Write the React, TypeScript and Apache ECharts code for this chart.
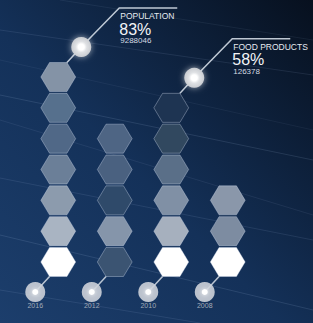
import React, { useEffect, useRef } from "react";
import * as echarts from "echarts";

// Categories (left to right)
const years = ["2016", "2012", "2010", "2008"];

// Hexagon shades per column, listed bottom -> top
const shades2016 = ["#ffffff", "#a9b4c2", "#8c9bad", "#6b7f98", "#506887", "#56708d", "#8493a6"];
const shades2012 = ["#3b5472", "#8595aa", "#2f4a6a", "#4a6180", "#4e6584"];
const shades2010 = ["#ffffff", "#a6b0be", "#8090a5", "#5a6f88", "#31485f", "#1e3452"];
const shades2008 = ["#ffffff", "#7d8ca1", "#8a97aa"];
const columnShades = [shades2016, shades2012, shades2010, shades2008];

// Callouts
const calloutYears = ["2016", "2010"];
const calloutNames = ["POPULATION", "FOOD PRODUCTS"];
const calloutPercents = [83, 58];
const calloutValues = [9288046, 126378];

const FONT = "'Liberation Sans', Arial, sans-serif";

function hexGeom(api: any) {
  const size = api.size([1, 1]);
  const h = size[1] - 1.8;
  const w = h * 1.2;
  return { h, r: w / 2 };
}

export default function App() {
  const ref = useRef<HTMLDivElement>(null);
  useEffect(() => {
    const chart = echarts.init(ref.current!, null, { renderer: "svg" });

    const hexData: any[] = [];
    columnShades.forEach((col, i) =>
      col.forEach((c, j) => hexData.push({ value: [i, j + 1], itemStyle: { color: c } }))
    );
    const baseData = years.map((_, i) => [i, 1]);
    const calloutData = calloutYears.map((y, k) => {
      const i = years.indexOf(y);
      return [i, columnShades[i].length, k];
    });

    const glow = {
      type: "radial",
      x: 0.5,
      y: 0.5,
      r: 0.5,
      colorStops: [
        { offset: 0, color: "#ffffff" },
        { offset: 0.3, color: "#ffffff" },
        { offset: 0.55, color: "#dfe1e4" },
        { offset: 1, color: "#c9ccd1" },
      ],
    };

    const streaks: any[] = [
      [0, 30, 313, 75, 0.1],
      [0, 95, 313, 160, 0.12],
      [0, 120, 313, 215, 0.08],
      [0, 178, 313, 240, 0.1],
      [0, 235, 313, 310, 0.12],
      [0, 290, 200, 323, 0.1],
      [60, 0, 313, 40, 0.07],
      [0, 60, 313, 130, 0.06],
    ].map(([x1, y1, x2, y2, o]) => ({
      type: "line",
      silent: true,
      z: -10,
      shape: { x1, y1, x2, y2 },
      style: { stroke: `rgba(200,220,255,${o})`, lineWidth: 1 },
    }));

    chart.setOption({
      animation: false,
      backgroundColor: {
        type: "linear",
        x: 0,
        y: 1,
        x2: 1,
        y2: 0,
        colorStops: [
          { offset: 0, color: "#1c3e6c" },
          { offset: 0.45, color: "#143159" },
          { offset: 1, color: "#07101e" },
        ],
      },
      graphic: streaks,
      grid: { left: 30, width: 226, top: 61.6, height: 215.8 },
      xAxis: { type: "category", data: years, show: false },
      yAxis: { type: "value", min: 0.5, max: 7.5, show: false },
      series: [
        {
          type: "custom",
          data: hexData,
          z: 2,
          renderItem: (params: any, api: any) => {
            const [cx, cy] = api.coord([api.value(0), api.value(1)]);
            const { h, r } = hexGeom(api);
            return {
              type: "polygon",
              shape: {
                points: [
                  [cx - r, cy],
                  [cx - r / 2, cy - h / 2],
                  [cx + r / 2, cy - h / 2],
                  [cx + r, cy],
                  [cx + r / 2, cy + h / 2],
                  [cx - r / 2, cy + h / 2],
                ],
              },
              style: { fill: api.visual("color"), stroke: "rgba(220,230,245,0.35)", lineWidth: 1 },
            };
          },
        },
        {
          type: "custom",
          data: baseData,
          z: 3,
          renderItem: (params: any, api: any) => {
            const [cx, cy] = api.coord([api.value(0), api.value(1)]);
            const { h, r } = hexGeom(api);
            const ox = cx - 23;
            const oy = cy + 30;
            return {
              type: "group",
              children: [
                {
                  type: "line",
                  shape: { x1: ox, y1: oy, x2: cx - r / 2, y2: cy + h / 2 },
                  style: { stroke: "rgba(215,222,230,0.85)", lineWidth: 1.5 },
                },
                {
                  type: "circle",
                  shape: { cx: ox, cy: oy, r: 10 },
                  style: { fill: "rgba(205,210,217,0.9)" },
                },
                {
                  type: "circle",
                  shape: { cx: ox, cy: oy, r: 3 },
                  style: { fill: "#ffffff", shadowBlur: 4, shadowColor: "#ffffff" },
                },
                {
                  type: "text",
                  style: {
                    x: ox,
                    y: oy + 14,
                    text: years[api.value(0)],
                    fill: "#a3acb8",
                    font: `7px ${FONT}`,
                    align: "center",
                    verticalAlign: "middle",
                  },
                },
              ],
            };
          },
        },
        {
          type: "custom",
          data: calloutData,
          z: 4,
          renderItem: (params: any, api: any) => {
            const [cx, cy] = api.coord([api.value(0), api.value(1)]);
            const { h, r } = hexGeom(api);
            const k = api.value(2);
            const ox = cx + 23;
            const oy = cy - 30;
            const kx = ox + 38;
            const ky = oy - 39;
            return {
              type: "group",
              children: [
                {
                  type: "polyline",
                  shape: { points: [[cx + r / 2, cy - h / 2], [ox, oy], [kx, ky], [kx + 58, ky]] },
                  style: { stroke: "rgba(210,218,228,0.9)", lineWidth: 1.5, fill: "none" },
                },
                {
                  type: "circle",
                  shape: { cx: ox, cy: oy, r: 10 },
                  style: { fill: glow, shadowBlur: 6, shadowColor: "rgba(255,255,255,0.6)" },
                },
                {
                  type: "text",
                  style: {
                    x: kx + 1,
                    y: ky + 8,
                    text: calloutNames[k],
                    fill: "#e6eaf0",
                    font: `8.5px ${FONT}`,
                    verticalAlign: "middle",
                  },
                },
                {
                  type: "text",
                  style: {
                    x: kx,
                    y: ky + 21,
                    text: calloutPercents[k] + "%",
                    fill: "#f2f4f7",
                    font: `16px ${FONT}`,
                    verticalAlign: "middle",
                  },
                },
                {
                  type: "text",
                  style: {
                    x: kx + 1,
                    y: ky + 32.5,
                    text: String(calloutValues[k]),
                    fill: "#d5dae2",
                    font: `8px ${FONT}`,
                    verticalAlign: "middle",
                  },
                },
              ],
            };
          },
        },
      ],
    });
    return () => chart.dispose();
  }, []);
  return (
    <div
      ref={ref}
      style={{ position: "fixed", left: 0, top: 0, width: 313, height: 323 }}
    />
  );
}
